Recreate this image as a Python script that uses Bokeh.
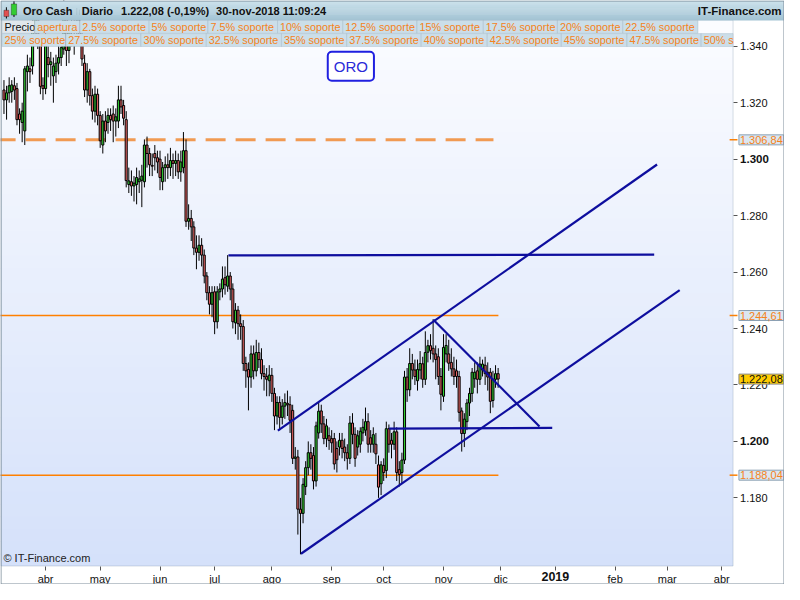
import numpy as np
import pandas as pd
from bokeh.plotting import figure
from bokeh.models import ColumnDataSource, FixedTicker, Label, BoxAnnotation, Range1d
from bokeh.embed import file_html
from bokeh.resources import INLINE

# ---------------- data ----------------
first_day = "2018-03-09"
axis_end = "2019-04-30"

open_ = [
    1324.5, 1321, 1323.5, 1324, 1326, 1325, 1316, 1313, 1310, 1331, 1332, 1333, 1347, 1354, 1341, 1326,
    1325, 1336, 1333.5, 1329.5, 1331, 1334, 1336, 1339, 1352, 1338.5, 1345, 1347, 1346, 1349, 1344, 1334, 1324.5, 1331, 1322.5, 1317, 1323,
    1315.5, 1305, 1313.5, 1313, 1315.5, 1316, 1313.5, 1313.5, 1321, 1319, 1314, 1291, 1292, 1290.5, 1291, 1292, 1292.5, 1292, 1305, 1302, 1297.8, 1302, 1300.5,
    1300, 1292, 1297, 1298, 1297, 1299.5, 1298.5, 1299.5, 1295.5, 1297, 1303, 1278, 1279, 1276, 1268.5, 1267, 1269.5, 1266, 1258.6, 1252.7, 1248.6,
    1253, 1242.4, 1253, 1254, 1258, 1255, 1258.6, 1254, 1242, 1246.5, 1241.7, 1240.7, 1227.6, 1225.5, 1222.8, 1231, 1225, 1231.5, 1229, 1224, 1223, 1221.5,
    1223.4, 1217, 1209, 1213.8, 1208.5, 1212.5, 1213.5, 1213, 1211, 1194, 1194.5, 1176, 1174.5, 1184, 1190.7, 1196, 1195, 1186, 1203, 1210.8, 1206.2, 1201, 1202,
    1201, 1201, 1197.5, 1198, 1200.4, 1198, 1196, 1194, 1206.5, 1202.5, 1198, 1199, 1203, 1204, 1207, 1201.3, 1199, 1199, 1191.7, 1185,
    1191.5, 1189.7, 1204.5, 1200.4, 1199, 1203.4, 1190, 1189, 1193.4, 1222.8, 1218.3, 1227.6, 1225.3, 1221.5, 1225.3, 1227.5, 1222, 1231.6, 1233.9, 1233, 1231, 1230, 1223,
    1216, 1231, 1231, 1228, 1225.7, 1225, 1223, 1210.8, 1202.8, 1207, 1213.6, 1217, 1222.2, 1225, 1222, 1225.3, 1227, 1224.5, 1224.5, 1214.5, 1222, 1224,
]
high = [
    1328, 1326, 1329, 1328, 1329, 1327, 1318, 1320, 1333, 1337, 1336, 1350, 1356, 1356, 1344, 1329,
    1348, 1340, 1338, 1336, 1337, 1340, 1342, 1365, 1356, 1349, 1352, 1351, 1354, 1353, 1347, 1337, 1334, 1332, 1325, 1326, 1325,
    1317, 1316, 1317, 1318, 1318, 1319, 1318, 1326, 1326, 1321, 1317, 1297, 1296, 1294, 1297, 1296, 1298, 1307, 1308, 1304, 1302, 1305, 1303,
    1303, 1299, 1301, 1302, 1304, 1302, 1303, 1302, 1303, 1309.6, 1307, 1284, 1282, 1278, 1273, 1273, 1272, 1268, 1260, 1255, 1255,
    1255, 1255, 1256, 1262, 1262, 1266, 1260, 1256, 1249, 1248, 1245, 1243, 1230, 1228, 1234, 1234, 1236, 1235, 1233, 1227, 1226, 1227,
    1226, 1219, 1216, 1216, 1215, 1217, 1218, 1216, 1213, 1198, 1197, 1180, 1187, 1193, 1200, 1199, 1198, 1207, 1214, 1213, 1209, 1208, 1205,
    1204, 1203, 1200, 1203, 1203, 1201, 1199, 1209, 1210, 1205, 1204, 1205, 1208, 1212, 1210, 1204, 1205, 1203, 1195, 1193,
    1194, 1207, 1206, 1203, 1207, 1205, 1193, 1196, 1225, 1226, 1233, 1231, 1229, 1229, 1232, 1230, 1239, 1236, 1238, 1243.3, 1234, 1233, 1226,
    1238, 1238, 1236, 1233, 1230, 1229, 1225, 1212, 1210, 1215, 1219, 1226, 1228, 1228, 1230, 1229, 1230, 1228, 1226, 1225, 1227, 1226,
]
low = [
    1316, 1314, 1320, 1320, 1321, 1312, 1309, 1306, 1305, 1324, 1327, 1330, 1342, 1339, 1323, 1321,
    1323, 1329, 1326, 1320, 1327, 1330, 1333, 1337, 1333, 1334, 1340, 1337, 1343, 1341, 1333, 1322, 1320, 1319, 1314, 1313, 1312,
    1304, 1302, 1306, 1309, 1310, 1306, 1308, 1311, 1316, 1312, 1290, 1288, 1287, 1285, 1284, 1288, 1283, 1290, 1297, 1294, 1294, 1296, 1295,
    1289, 1289, 1292, 1293, 1294, 1293, 1294, 1293, 1292, 1295, 1276, 1275, 1271, 1266, 1261, 1264, 1262, 1256, 1250, 1245, 1244,
    1238, 1240, 1250, 1251, 1252, 1253, 1250, 1240, 1238, 1236, 1236, 1225, 1219, 1211, 1219, 1222, 1223, 1226, 1222, 1218, 1216, 1216,
    1214, 1204, 1206, 1204, 1206, 1208, 1209, 1203, 1192, 1190, 1167, 1160, 1171, 1181, 1188, 1190, 1183, 1184, 1201, 1203, 1199, 1198, 1197,
    1196, 1190, 1189, 1195, 1194, 1193, 1190, 1192, 1199, 1191, 1195, 1196, 1200, 1202, 1196, 1196, 1196, 1192, 1180, 1181,
    1186, 1187, 1196, 1194, 1197, 1186, 1184, 1185, 1192, 1214, 1216, 1222, 1220, 1218, 1222, 1219, 1220, 1228, 1229, 1228, 1222, 1220, 1211,
    1214, 1228, 1225, 1223, 1220, 1219, 1207, 1196.4, 1198, 1204, 1209, 1214, 1219, 1217, 1220, 1223, 1220, 1218, 1210, 1212, 1219, 1219,
]
close = [
    1321, 1323.5, 1326, 1326.3, 1324.5, 1314, 1314, 1317, 1332, 1333, 1331, 1347, 1354, 1341, 1325.8, 1325,
    1344, 1333.5, 1334.5, 1333, 1334, 1336, 1339.5, 1352, 1338.5, 1345, 1347, 1346, 1349, 1344, 1335.5, 1324.5, 1331, 1322.5, 1317, 1323, 1315.5,
    1306.5, 1313.5, 1310, 1315.5, 1314, 1313.5, 1315, 1321, 1318.5, 1314.5, 1292.4, 1292.3, 1290.5, 1291.5, 1293.5, 1293, 1294, 1305, 1302, 1298, 1297.5, 1300.5, 1299,
    1293.5, 1297, 1298, 1297, 1299.5, 1298.5, 1299.5, 1295.5, 1299, 1303, 1278, 1279, 1276, 1268.5, 1267, 1269.5, 1266, 1258.6, 1252.7, 1248.6, 1252.7,
    1242.4, 1253, 1254, 1257.5, 1255.5, 1258.6, 1254, 1242.4, 1246.5, 1241.7, 1240.7, 1227.6, 1225, 1222.8, 1231, 1225, 1231.5, 1229, 1224, 1223, 1222, 1223.5,
    1217, 1209, 1213.8, 1208.5, 1212.5, 1213.8, 1213, 1207.5, 1194, 1194.5, 1176, 1174.5, 1184.8, 1190.7, 1196, 1194, 1186, 1205.5, 1210.7, 1206.2, 1201, 1205.5, 1200.3,
    1199.5, 1192, 1193.5, 1200.4, 1197.5, 1196, 1194, 1206.5, 1202.5, 1194, 1202, 1203.6, 1205, 1207, 1199, 1199, 1202.4, 1195.6, 1183.8, 1191.7,
    1189, 1204.5, 1199, 1199, 1203.4, 1189, 1188.3, 1193.4, 1222.8, 1218.3, 1227.6, 1225.3, 1223, 1225.5, 1227.6, 1222, 1231.5, 1233.9, 1232.2, 1231, 1229, 1223, 1216.7,
    1233.3, 1234, 1227.7, 1225.7, 1223, 1223, 1210.3, 1202.8, 1207.9, 1213.6, 1217, 1224.5, 1224.5, 1222, 1227.4, 1227.4, 1224, 1222.8, 1214.2, 1222, 1224, 1222.08,
]

month_labels = ["abr", "may", "jun", "jul", "ago", "sep", "oct", "nov", "dic", "2019", "feb", "mar", "abr"]
bold_month_labels = ["2019"]

price_ticks = [1180, 1200, 1220, 1240, 1260, 1280, 1300, 1320, 1340]
bold_price_ticks = [1200, 1300]

support_levels = [1306.84, 1244.61, 1188.04]
support_dashed = [True, False, False]
support_end = [188.2, 190.1, 190.1]          # trading-day index where each level stops
last_price = 1222.08

# trend lines (trading-day index, price)
trend_x0 = [86.3, 105.3, 114.2, 165.1, 148.1]
trend_y0 = [1265.9, 1203.8, 1160.2, 1243.1, 1204.5]
trend_x1 = [250.0, 251.1, 259.8, 205.9, 210.8]
trend_y1 = [1266.2, 1298.1, 1253.6, 1205.3, 1204.8]

row1_labels = ["Precio", "apertura", "2.5% soporte", "5% soporte", "7.5% soporte", "10% soporte",
               "12.5% soporte", "15% soporte", "17.5% soporte", "20% soporte", "22.5% soporte"]
row2_labels = ["25% soporte", "27.5% soporte", "30% soporte", "32.5% soporte", "35% soporte", "37.5% soporte",
               "40% soporte", "42.5% soporte", "45% soporte", "47.5% soporte", "50% s"]

header_texts = ["Oro Cash", "Diario", "1.222,08 (-0,19%)", "30-nov-2018 11:09:24"]

# ---------------- layout (reference pixel grid 800x600 scaled to canvas) ----------------
W, H = 784, 584
SX, SY = W / 800.0, H / 600.0
FONT = "Liberation Sans"
ORANGE = "#f58220"
NAVY = "#0e0e9e"

# reference pixel -> data mapping (2.654 px per trading day, 2.9 px per dollar)
PX_DAY, DAY0_PX, DAY0 = 2.654, 46.0, 16
PX_USD, USD0_PX, USD0 = 2.9, 453.0, 1200.0


def day_at(rx):
    return DAY0 + (rx - DAY0_PX) / PX_DAY


def usd_at(ry):
    return USD0 + (USD0_PX - ry) / PX_USD


def X(rx):
    return rx * SX


def Y(ry):
    return H - ry * SY


PLOT_R, PLOT_T, PLOT_B = 747.5, 20.0, 581.0


def es_num(v, dec):
    s = f"{v:,.{dec}f}"
    return s.replace(",", "#").replace(".", ",").replace("#", ".")


n = min(len(open_), len(high), len(low), len(close))
o = np.array(open_[:n]); h = np.array(high[:n]); l = np.array(low[:n]); c = np.array(close[:n])
xs = np.arange(n)
src = ColumnDataSource(dict(
    x=xs, o=o, h=h, l=l, c=c,
    top=np.maximum(o, c), bottom=np.minimum(o, c),
    color=np.where(c >= o, "#33cc33", "#e46464"),
))

cal = pd.bdate_range(first_day, axis_end)
month_pos = [k for k in range(1, len(cal)) if cal[k].month != cal[k - 1].month][:len(month_labels)]

p = figure(width=W, height=H, title=None,
           x_range=Range1d(day_at(0), day_at(800)), y_range=Range1d(usd_at(600), usd_at(0)),
           y_axis_location="right", output_backend="svg", toolbar_location=None,
           min_border_left=0, min_border_right=0, min_border_top=0, min_border_bottom=0)
p.xgrid.visible = False
p.ygrid.visible = False
p.background_fill_color = "white"
p.border_fill_color = "white"
p.outline_line_color = None


def box(l0, r0, t0, b0, **kw):
    return BoxAnnotation(left=X(l0), right=X(r0), top=Y(t0), bottom=Y(b0),
                         left_units="screen", right_units="screen", bottom_units="screen", top_units="screen", **kw)


# plot-area gradient background
NB = 44
top_rgb = np.array([251, 252, 255]); bot_rgb = np.array([213, 225, 250])
for k in range(NB):
    f = k / (NB - 1)
    col = tuple(int(round(v)) for v in top_rgb * (1 - f) + bot_rgb * f)
    t0 = PLOT_T + (PLOT_B - PLOT_T) * k / NB
    b0 = PLOT_T + (PLOT_B - PLOT_T) * (k + 1) / NB + 0.8
    p.add_layout(box(0, PLOT_R, t0, min(b0, PLOT_B), fill_color="#%02x%02x%02x" % col, fill_alpha=1,
                     line_color=None, level="underlay"))

# axes drawn at the plot-area edges
ya = p.yaxis[0]
ya.fixed_location = day_at(PLOT_R)
ya.ticker = FixedTicker(ticks=price_ticks)
ya.major_label_overrides = {t: ("" if t in bold_price_ticks else es_num(t, 0)) for t in price_ticks}
ya.major_tick_out = 4; ya.major_tick_in = 0
ya.minor_tick_line_color = None
ya.axis_line_color = None
ya.major_tick_line_color = "#555555"
ya.major_label_standoff = 3
ya.major_label_text_font = FONT
ya.major_label_text_font_size = "11px"
ya.major_label_text_color = "#111111"

xa = p.xaxis[0]
xa.fixed_location = usd_at(PLOT_B)
xa.ticker = FixedTicker(ticks=month_pos)
xa.major_label_overrides = {pos: ("" if lab in bold_month_labels else lab) for pos, lab in zip(month_pos, month_labels)}
xa.major_tick_out = 4; xa.major_tick_in = 0
xa.minor_tick_line_color = None
xa.axis_line_color = None
xa.major_tick_line_color = "#555555"
xa.major_label_standoff = 3
xa.major_label_text_font = FONT
xa.major_label_text_font_size = "11px"
xa.major_label_text_color = "#111111"

# support levels
x_start = day_at(-5)
for lev, dashed, end in zip(support_levels, support_dashed, support_end):
    if dashed:
        p.segment(x0=[x_start], y0=[lev], x1=[end], y1=[lev], line_color="#f08a34", line_width=3,
                  line_alpha=0.85, line_dash="20 10")
    else:
        p.segment(x0=[x_start], y0=[lev], x1=[end], y1=[lev], line_color="#ff8000", line_width=1.5)
p.segment(x0=[day_at(744)] * len(support_levels), y0=support_levels,
          x1=[day_at(752)] * len(support_levels), y1=support_levels, line_color="#ff8000", line_width=1.5)

# candles
p.segment(x0="x", y0="l", x1="x", y1="h", source=src, line_color="black", line_width=1)
p.vbar(x="x", top="top", bottom="bottom", width=0.8, fill_color="color", line_color="black",
       line_width=1, source=src)

# trend lines
p.segment(x0=trend_x0, y0=trend_y0, x1=trend_x1, y1=trend_y1, line_color=NAVY, line_width=2.2)

# plot-area outline
p.add_layout(box(0.6, PLOT_R, PLOT_T, PLOT_B, fill_color=None, line_color="#7890a4", line_width=1))

# header bar (gradient)
h_top = np.array([204, 226, 236]); h_bot = np.array([164, 196, 212])
NH = 20
for k in range(NH):
    f = k / (NH - 1)
    col = tuple(int(round(v)) for v in h_top * (1 - f) + h_bot * f)
    p.add_layout(box(0, 800, k * PLOT_T / NH, (k + 1) * PLOT_T / NH + 0.6,
                     fill_color="#%02x%02x%02x" % col, fill_alpha=1, line_color=None))

# header icon
for (l0, r0, t0, b0, colr) in [(3.5, 8.5, 10, 16.5, "#e05050"), (11, 16.5, 3.5, 15, "#33cc33")]:
    wx = (l0 + r0) / 2
    p.add_layout(box(wx - 0.5, wx + 0.5, t0 - 3, b0 + 2, fill_color="black", fill_alpha=1, line_color=None))
    p.add_layout(box(l0, r0, t0, b0, fill_color=colr, fill_alpha=1, line_color="black", line_width=1))

for txt, rx in zip(header_texts, [23, 83, 123, 220]):
    p.add_layout(Label(x=X(rx), y=Y(10.5), x_units="screen", y_units="screen", text=txt,
                       text_font=FONT, text_font_size="11px", text_font_style="bold", text_color="#111111",
                       text_align="left", text_baseline="middle"))
p.add_layout(Label(x=X(797), y=Y(10.5), x_units="screen", y_units="screen", text="IT-Finance.com",
                   text_font=FONT, text_font_size="11.5px", text_font_style="bold", text_color="#111111",
                   text_align="right", text_baseline="middle"))

# legend rows
row1_edges = [1.7, 35, 81, 151.7, 211.7, 282.7, 349.3, 425, 492.7, 568.3, 635, 711.7]
row2_edges = [1.7, 66.7, 143.3, 210, 286.7, 353.3, 429.3, 496.7, 572.3, 639.3, 715, 747.5]
for labels, edges, (rt, rb) in [(row1_labels, row1_edges, (20.5, 33.7)), (row2_labels, row2_edges, (34.0, 47.3))]:
    for k, lab in enumerate(labels):
        l0, r0 = edges[k], edges[k + 1]
        is_price = lab == "Precio"
        p.add_layout(box(l0, r0, rt, rb, fill_color="#e1e7ec" if is_price else "#cbdee9", fill_alpha=1,
                         line_color="#8ea5b5", line_width=1))
        p.add_layout(Label(x=X(l0 + 2.5), y=Y((rt + rb) / 2), x_units="screen", y_units="screen", text=lab,
                           text_font=FONT, text_font_size="10.8px",
                           text_color="#111111" if is_price else ORANGE,
                           text_align="left", text_baseline="middle"))

# ORO box
p.add_layout(Label(x=X(357.5), y=Y(67.5), x_units="screen", y_units="screen", text="ORO",
                   text_font=FONT, text_font_size="15px", text_color="#2a2ad8",
                   text_align="center", text_baseline="middle",
                   background_fill_color="white", border_line_color="#2020e0", border_line_width=2,
                   padding=6, border_radius=4))

# copyright
p.add_layout(Label(x=X(3), y=Y(579), x_units="screen", y_units="screen", text="\u00a9 IT-Finance.com",
                   text_font=FONT, text_font_size="11px", text_color="#222222",
                   text_align="left", text_baseline="bottom"))

# bold axis labels
for t in bold_price_ticks:
    p.add_layout(Label(x=X(PLOT_R) + 7, y=t, x_units="screen", y_units="data", text=es_num(t, 0),
                       text_font=FONT, text_font_size="11.5px", text_font_style="bold", text_color="#111111",
                       text_align="left", text_baseline="middle"))
for pos, lab in zip(month_pos, month_labels):
    if lab in bold_month_labels:
        p.add_layout(Label(x=pos, y=Y(PLOT_B) - 6, x_units="data", y_units="screen", text=lab,
                           text_font=FONT, text_font_size="12.5px", text_font_style="bold", text_color="#111111",
                           text_align="center", text_baseline="top"))

# price boxes on the axis
for lev in support_levels:
    p.add_layout(Label(x=X(753.5), y=lev, x_units="screen", y_units="data", text=es_num(lev, 2),
                       text_font=FONT, text_font_size="11px", text_color=ORANGE,
                       text_align="left", text_baseline="middle",
                       background_fill_color="#dbe7f1", border_line_color="#8ba0b3", padding=1))
p.add_layout(Label(x=X(753.5), y=last_price, x_units="screen", y_units="data", text=es_num(last_price, 2),
                   text_font=FONT, text_font_size="11px", text_color="#111111",
                   text_align="left", text_baseline="middle",
                   background_fill_color="#ffcc00", border_line_color="#8a8a8a", padding=1))

# outer border
p.add_layout(BoxAnnotation(left=0.5, right=W - 0.5, bottom=0.5, top=H - 0.5,
                           left_units="screen", right_units="screen", bottom_units="screen", top_units="screen",
                           fill_color=None, line_color="#7d8d9a", line_width=1, line_alpha=1))

open("out.html", "w").write(file_html(p, INLINE))
